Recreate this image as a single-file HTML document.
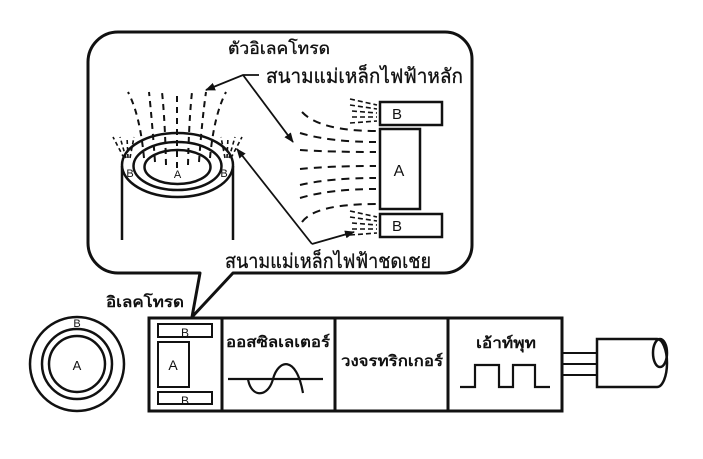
<!DOCTYPE html>
<html>
<head>
<meta charset="utf-8">
<style>
  html, body { margin: 0; padding: 0; background: #fff; }
  body { width: 703px; height: 459px; overflow: hidden; }
  svg { display: block; }
  text { font-family: "Liberation Sans", "DejaVu Sans", "Noto Sans CJK SC", sans-serif; fill: #111; }
  .lbl { stroke: #111; stroke-width: 0.35; }
</style>
</head>
<body>
<svg width="703" height="459" viewBox="0 0 703 459" xmlns="http://www.w3.org/2000/svg">
  <defs>
    <marker id="ah" markerWidth="10" markerHeight="8" refX="9" refY="4" orient="auto" markerUnits="userSpaceOnUse">
      <path d="M0,0 L10,4 L0,8 Z" fill="#111"/>
    </marker>
  </defs>
  <rect width="703" height="459" fill="#fff"/>

  <!-- Callout bubble -->
  <path d="M118,32 H445 A27,27 0 0 1 472,59 V245 A28,28 0 0 1 444,273 H233 L192,317 L200,273 H118 A30,30 0 0 1 88,243 V62 A30,30 0 0 1 118,32 Z"
        fill="none" stroke="#111" stroke-width="3" stroke-linejoin="round"/>

  <!-- Cylinder -->
  <g fill="none" stroke="#111" stroke-width="2.5">
    <line x1="122" y1="166" x2="122" y2="240"/>
    <line x1="233" y1="166" x2="233" y2="240"/>
    <ellipse cx="177.5" cy="165" rx="55.5" ry="32" fill="#fff"/>
    <ellipse cx="177.5" cy="166" rx="44" ry="24"/>
    <ellipse cx="177.5" cy="167" rx="33" ry="17"/>
  </g>
  <!-- Field fan above cylinder -->
  <g fill="none" stroke="#111" stroke-width="2" stroke-dasharray="6 5">
    <path d="M144,158 Q140,115 128,92"/>
    <path d="M155,162 Q152,120 149,92"/>
    <path d="M166,165 Q165,120 162,92"/>
    <path d="M177,168 L177,92"/>
    <path d="M188,165 Q189,120 192,92"/>
    <path d="M199,162 Q202,120 206,92"/>
    <path d="M210,158 Q214,115 226,92"/>
  </g>
  <g fill="none" stroke="#111" stroke-width="1.6" stroke-dasharray="4 3">
    <path d="M124,158 L113,137"/>
    <path d="M126,158 L120,137"/>
    <path d="M128,158 L127,137"/>
    <path d="M130,158 L134,137"/>
    <path d="M231,158 L242,137"/>
    <path d="M229,158 L235,137"/>
    <path d="M227,158 L228,137"/>
    <path d="M225,158 L221,137"/>
  </g>
  <text x="130" y="177" font-size="11" text-anchor="middle">B</text>
  <text x="224" y="177" font-size="11" text-anchor="middle">B</text>
  <text x="177.5" y="178" font-size="11" text-anchor="middle">A</text>

  <!-- Right-side electrode in bubble -->
  <g fill="#fff" stroke="#111" stroke-width="2.5">
    <rect x="380" y="102" width="62" height="23"/>
    <rect x="380" y="129" width="40" height="80"/>
    <rect x="380" y="214" width="62" height="23"/>
  </g>
  <text x="397" y="119" font-size="15" text-anchor="middle">B</text>
  <text x="399" y="176" font-size="16" text-anchor="middle">A</text>
  <text x="397" y="231" font-size="15" text-anchor="middle">B</text>

  <g fill="none" stroke="#111" stroke-width="2" stroke-dasharray="8 6">
    <path d="M302,112 Q320,131 376,131"/>
    <path d="M300,133 Q330,142 376,142"/>
    <path d="M300,150 Q330,152 376,152"/>
    <path d="M300,169 Q330,166 376,166"/>
    <path d="M300,185 Q330,178 376,178"/>
    <path d="M300,198 Q330,189 376,189"/>
    <path d="M302,222 Q315,204 376,204"/>
  </g>
  <g fill="none" stroke="#111" stroke-width="1.6" stroke-dasharray="5 3">
    <path d="M350,99 L377,105"/>
    <path d="M350,105 L377,109"/>
    <path d="M352,111 L377,113"/>
    <path d="M352,117 L377,117"/>
    <path d="M350,123 L377,121"/>
    <path d="M350,211 L377,217"/>
    <path d="M350,217 L377,221"/>
    <path d="M352,223 L377,225"/>
    <path d="M352,229 L377,229"/>
    <path d="M350,235 L377,233"/>
  </g>

  <!-- Leader arrows -->
  <g fill="none" stroke="#111" stroke-width="1.8">
    <polyline points="259,75 243,75 206,90" marker-end="url(#ah)"/>
    <line x1="243" y1="75" x2="293" y2="142" marker-end="url(#ah)"/>
    <line x1="312" y1="244" x2="237" y2="149" marker-end="url(#ah)"/>
    <line x1="312" y1="244" x2="354" y2="232" marker-end="url(#ah)"/>
  </g>

  <!-- Bubble labels -->
  <text class="lbl" x="228" y="54" font-size="17" textLength="102" lengthAdjust="spacingAndGlyphs">ตัวอิเลคโทรด</text>
  <text class="lbl" x="266" y="83" font-size="20" textLength="197" lengthAdjust="spacingAndGlyphs">สนามแม่เหล็กไฟฟ้าหลัก</text>
  <text class="lbl" x="225" y="268" font-size="20" textLength="206" lengthAdjust="spacingAndGlyphs">สนามแม่เหล็กไฟฟ้าชดเชย</text>
  <text x="106" y="307" font-size="15" font-weight="bold" textLength="78" lengthAdjust="spacingAndGlyphs">อิเลคโทรด</text>

  <!-- Left circles -->
  <g fill="none" stroke="#111" stroke-width="2.5">
    <circle cx="77" cy="364" r="47"/>
    <circle cx="77" cy="364" r="35"/>
    <circle cx="77" cy="364" r="28"/>
  </g>
  <text x="77" y="327" font-size="11" text-anchor="middle">B</text>
  <text x="77" y="370" font-size="13" text-anchor="middle">A</text>

  <!-- Sensor body -->
  <g fill="none" stroke="#111" stroke-width="3">
    <rect x="149" y="318" width="413" height="93"/>
    <line x1="222" y1="318" x2="222" y2="411"/>
    <line x1="335" y1="318" x2="335" y2="411"/>
    <line x1="448" y1="318" x2="448" y2="411"/>
  </g>
  <g fill="none" stroke="#111" stroke-width="2">
    <rect x="158" y="324" width="54" height="13"/>
    <rect x="158" y="342" width="31" height="45"/>
    <rect x="158" y="392" width="54" height="12"/>
  </g>
  <text x="185" y="337" font-size="12" text-anchor="middle">B</text>
  <text x="173" y="370" font-size="14" text-anchor="middle">A</text>
  <text x="185" y="405" font-size="12" text-anchor="middle">B</text>

  <text x="226" y="347" font-size="15" font-weight="bold" textLength="104" lengthAdjust="spacingAndGlyphs">ออสซิลเลเตอร์</text>
  <g fill="none" stroke="#111" stroke-width="2.2">
    <line x1="228" y1="379" x2="323" y2="379"/>
    <path d="M248,379 C251,398 268,398 273,379 C278,360 296,354 303,393"/>
  </g>

  <text x="341" y="366" font-size="15" font-weight="bold" textLength="102" lengthAdjust="spacingAndGlyphs">วงจรทริกเกอร์</text>

  <text x="476" y="348" font-size="15" font-weight="bold" textLength="60" lengthAdjust="spacingAndGlyphs">เอ้าท์พุท</text>
  <polyline points="460,387 475,387 475,365 499,365 499,387 513,387 513,365 535,365 535,387 550,387"
            fill="none" stroke="#111" stroke-width="2.2"/>

  <!-- Cable -->
  <g fill="none" stroke="#111" stroke-width="2">
    <line x1="562" y1="353" x2="597" y2="353"/>
    <line x1="562" y1="364" x2="597" y2="364"/>
    <line x1="562" y1="375" x2="597" y2="375"/>
  </g>
  <g fill="none" stroke="#111" stroke-width="2.5">
    <path d="M657,339 H597 V387 H657"/>
    <path d="M657,339 A10,24 0 0 1 657,387"/>
    <ellipse cx="660" cy="353" rx="7" ry="14"/>
  </g>
</svg>
</body>
</html>
